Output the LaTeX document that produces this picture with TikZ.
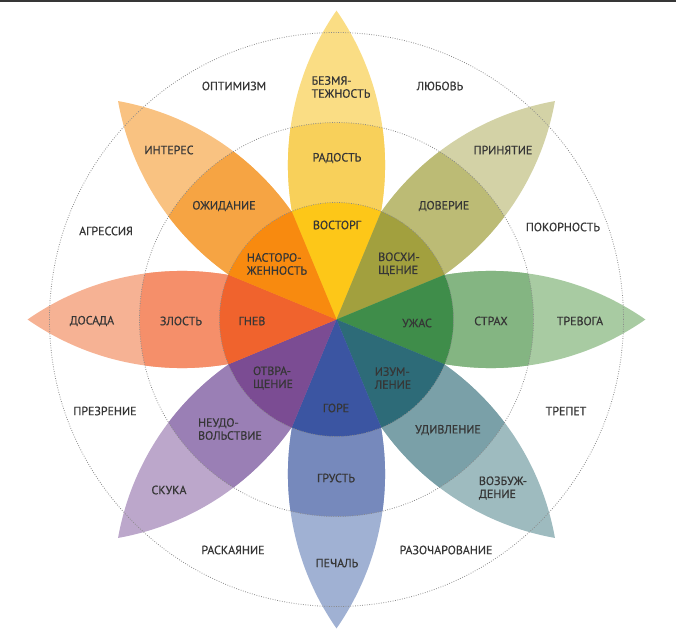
\documentclass[tikz,border=0pt]{standalone}
\usepackage{fontspec}
\setmainfont{PT Sans}
\newfontfamily\emofont{PT Sans}[FakeBold=0.6]
\usepackage{xcolor}
\usetikzlibrary{calc}

\definecolor{txt}{HTML}{363636}
\definecolor{dots}{HTML}{8A8A8A}
% inner / middle / outer shades of each petal
\definecolor{joyA}{HTML}{FDC718}   \definecolor{joyB}{HTML}{F8D05A}   \definecolor{joyC}{HTML}{FADD84}
\definecolor{trustA}{HTML}{A2A03E} \definecolor{trustB}{HTML}{BCBB75} \definecolor{trustC}{HTML}{D3D2A6}
\definecolor{fearA}{HTML}{3F8D4A}  \definecolor{fearB}{HTML}{84B582}  \definecolor{fearC}{HTML}{A8CBA2}
\definecolor{surpA}{HTML}{2D6B78}  \definecolor{surpB}{HTML}{7AA0A8}  \definecolor{surpC}{HTML}{9EBBBF}
\definecolor{sadA}{HTML}{3B55A2}   \definecolor{sadB}{HTML}{7689BC}   \definecolor{sadC}{HTML}{A0B1D3}
\definecolor{disgA}{HTML}{7B4C93}  \definecolor{disgB}{HTML}{9A7FB5}  \definecolor{disgC}{HTML}{BCA7CB}
\definecolor{angerA}{HTML}{F0632D} \definecolor{angerB}{HTML}{F58F6A} \definecolor{angerC}{HTML}{F6B294}
\definecolor{anticA}{HTML}{F88A0F} \definecolor{anticB}{HTML}{F6A443} \definecolor{anticC}{HTML}{F9C281}

\newcommand{\petalshape}{(0,0) arc[start angle=124.9, end angle=55.1, radius=270]
  arc[start angle=-55.1, end angle=-124.9, radius=270] -- cycle}

\tikzset{
  emo/.style={font=\emofont\fontsize{6.8}{7.4}\selectfont, text=txt, align=left, inner sep=0pt},
  ring/.style={draw=dots, line width=0.45pt, dash pattern=on 0.45pt off 0.9pt},
}

\begin{document}
\begin{tikzpicture}[x=0.2mm, y=0.2mm]
  \useasboundingbox (-336.5,-320.5) rectangle (339.5,319.5);
  \fill[txt] (-336.5,317.2) rectangle (339.5,319.5);

  % petals
  \foreach \ang/\col in {90/joy, 45/trust, 0/fear, -45/surp, -90/sad, -135/disg, 180/anger, 135/antic} {
    \begin{scope}[rotate=\ang]
      \fill[\col C] \petalshape;
      \begin{scope}
        \clip (0,0) circle[radius=197];
        \fill[\col B] \petalshape;
      \end{scope}
    \end{scope}
  }
  % inner wheel
  \foreach \ang/\col in {90/joy, 45/trust, 0/fear, -45/surp, -90/sad, -135/disg, 180/anger, 135/antic}
    \fill[\col A] (0,0) -- (\ang-22.5:117) arc[start angle=\ang-22.5, end angle=\ang+22.5, radius=117] -- cycle;

  \draw[ring] (0,0) circle[radius=117];
  \draw[ring] (0,0) circle[radius=197];
  \draw[ring] (0,0) circle[radius=287];

  % joy
  \node[emo] (serenity) at (4.5,232.5) {БЕЗМЯ-\\ТЕЖНОСТЬ};
  \node[emo] (joy) at (0.5,161.5) {РАДОСТЬ};
  \node[emo] (ecstasy) at (0.5,94.5) {ВОСТОРГ};
  % trust
  \node[emo] (acceptance) at (166.5,169.5) {ПРИНЯТИЕ};
  \node[emo] (trust) at (107.5,113.5) {ДОВЕРИЕ};
  \node[emo] (admiration) at (62.5,55.5) {ВОСХИ-\\ЩЕНИЕ};
  % fear
  \node[emo] (apprehension) at (243.5,-1.5) {ТРЕВОГА};
  \node[emo] (fear) at (154.5,-1.5) {СТРАХ};
  \node[emo] (terror) at (80.5,-3.5) {УЖАС};
  % surprise
  \node[emo] (distraction) at (166.5,-168.5) {ВОЗБУЖ-\\ДЕНИЕ};
  \node[emo] (surprise) at (111.5,-110.5) {УДИВЛЕНИЕ};
  \node[emo] (amazement) at (56.5,-58.5) {ИЗУМ-\\ЛЕНИЕ};
  % sadness
  \node[emo] (pensiveness) at (0.5,-243.5) {ПЕЧАЛЬ};
  \node[emo] (sadness) at (-0.5,-158.5) {ГРУСТЬ};
  \node[emo] (grief) at (-0.5,-88.5) {ГОРЕ};
  % disgust
  \node[emo] (boredom) at (-167.5,-170.5) {СКУКА};
  \node[emo] (disgust) at (-106.5,-109.5) {НЕУДО-\\ВОЛЬСТВИЕ};
  \node[emo] (loathing) at (-63.5,-58.5) {ОТВРА-\\ЩЕНИЕ};
  % anger
  \node[emo] (annoyance) at (-244.5,-1.5) {ДОСАДА};
  \node[emo] (anger) at (-155.5,-1.5) {ЗЛОСТЬ};
  \node[emo] (rage) at (-84.5,-1.5) {ГНЕВ};
  % anticipation
  \node[emo] (interest) at (-167.5,169.5) {ИНТЕРЕС};
  \node[emo] (anticipation) at (-112.5,113.5) {ОЖИДАНИЕ};
  \node[emo] (vigilance) at (-59.5,55.5) {НАСТОРО-\\ЖЕННОСТЬ};

  % dyads
  \node[emo] (optimism) at (-102.5,233.5) {ОПТИМИЗМ};
  \node[emo] (love) at (103.5,233.5) {ЛЮБОВЬ};
  \node[emo] (submission) at (226.5,92.5) {ПОКОРНОСТЬ};
  \node[emo] (awe) at (229.5,-91.5) {ТРЕПЕТ};
  \node[emo] (disappointment) at (109.5,-230.5) {РАЗОЧАРОВАНИЕ};
  \node[emo] (remorse) at (-103.5,-230.5) {РАСКАЯНИЕ};
  \node[emo] (contempt) at (-231.5,-91.5) {ПРЕЗРЕНИЕ};
  \node[emo] (aggressiveness) at (-230.5,88.5) {АГРЕССИЯ};
\end{tikzpicture}
\end{document}
